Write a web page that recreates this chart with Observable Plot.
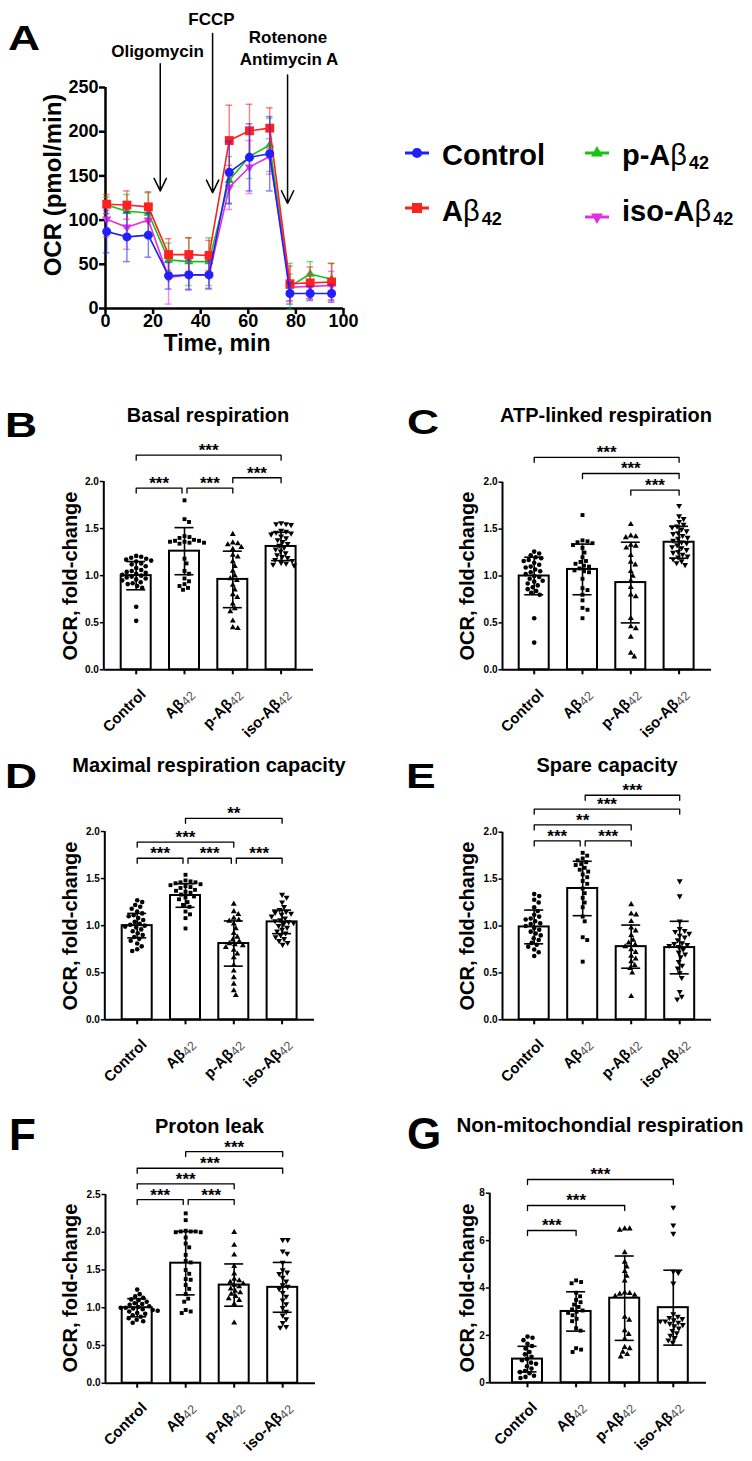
<!DOCTYPE html>
<html><head><meta charset="utf-8">
<script src="https://cdn.jsdelivr.net/npm/d3@7"></script>
<script src="https://cdn.jsdelivr.net/npm/@observablehq/plot@0.6"></script>
<style>
html,body{margin:0;padding:0;background:#fff;}
#fig{position:relative;width:752px;height:1461px;overflow:hidden;background:#fff;font-family:"Liberation Sans",Arial,sans-serif;}
</style></head>
<body><div id="fig"></div>
<script>
// ---------------- DATA ----------------
const groups = ["Control", "Aβ42", "p-Aβ42", "iso-Aβ42"];
const groupSymbols = ["circle", "square", "triangle", "triangle"];
const groupRotate = [0, 0, 0, 180];
const seriesColors = ["#1f1fff", "#ff2020", "#16c416", "#e030e0"];

// Panel A: Seahorse OCR time course (mean, SD)
const timeMin = [0.5, 9, 18, 26.5, 35, 43.5, 52, 60.5, 69, 77.5, 86, 95];
const ocrControl = [87, 81, 83, 37, 38, 38, 154, 171, 175, 17, 17, 17];
const ocrControlSD = [24, 28, 25, 15, 17, 16, 35, 38, 42, 12, 8, 10];
const ocrAbeta = [118, 117, 115, 61, 61, 60, 190, 201, 204, 28, 29, 30];
const ocrAbetaSD = [11, 16, 17, 18, 19, 17, 40, 30, 23, 20, 18, 21];
const ocrPAbeta = [117, 110, 108, 55, 53, 53, 145, 172, 185, 25, 39, 33];
const ocrPAbetaSD = [9, 19, 23, 19, 27, 27, 27, 25, 30, 26, 14, 18];
const ocrIsoAbeta = [101, 92, 100, 35, 38, 38, 137, 160, 172, 24, 25, 26];
const ocrIsoAbetaSD = [20, 25, 18, 30, 16, 15, 25, 30, 20, 15, 14, 16];
const timeTicks = [0, 20, 40, 60, 80, 100];
const ocrTicks = [0, 50, 100, 150, 200, 250];
const injections = ["Oligomycin", "FCCP", "Rotenone|Antimycin A"];
const injectionTime = [23, 45, 76.5];

// Panel B: Basal respiration
const basalMean = [1.00, 1.26, 0.96, 1.31];
const basalSD = [0.15, 0.25, 0.30, 0.15];
const basalControl = [1.21,1.20,1.19,1.18,1.17,1.16,1.15,1.13,1.12,1.10,1.08,1.06,1.05,1.04,1.03,1.02,1.01,1.00,0.99,0.98,0.97,0.96,0.95,0.93,0.92,0.91,0.89,0.87,0.67,0.52];
const basalAbeta = [1.80,1.60,1.57,1.42,1.41,1.40,1.38,1.37,1.37,1.36,1.36,1.35,1.35,1.34,1.18,1.13,1.05,1.02,0.97,0.94,0.91,0.89,0.87,0.85];
const basalPAbeta = [1.44,1.35,1.34,1.33,1.30,1.28,1.22,1.20,1.15,1.10,1.05,1.00,0.97,0.95,0.90,0.85,0.80,0.77,0.70,0.65,0.62,0.52,0.45,0.44];
const basalIsoAbeta = [1.56,1.55,1.55,1.54,1.48,1.47,1.46,1.45,1.44,1.42,1.40,1.38,1.36,1.34,1.32,1.30,1.28,1.26,1.24,1.22,1.20,1.19,1.17,1.16,1.14,1.13,1.12,1.11];
const basalSig = [
  {a: 0, b: 3, level: 2.28, label: "***"},
  {a: 0, b: 1, level: 1.93, label: "***", nb: -1},
  {a: 1, b: 2, level: 1.93, label: "***", na: 1},
  {a: 2, b: 3, level: 2.04, label: "***"}];

// Panel C: ATP-linked respiration
const atpMean = [1.00, 1.07, 0.93, 1.36];
const atpSD = [0.20, 0.27, 0.43, 0.17];
const atpControl = [1.26,1.24,1.22,1.20,1.19,1.17,1.16,1.14,1.12,1.10,1.09,1.07,1.05,1.04,1.02,1.00,0.99,0.97,0.95,0.94,0.92,0.90,0.88,0.86,0.84,0.82,0.80,0.55,0.29];
const atpAbeta = [1.65,1.38,1.37,1.36,1.35,1.33,1.30,1.25,1.20,1.16,1.15,1.13,1.11,1.10,1.08,1.06,1.05,1.04,0.97,0.87,0.85,0.80,0.74,0.66,0.64,0.55];
const atpPAbeta = [1.55,1.43,1.42,1.41,1.33,1.32,1.30,1.22,1.15,1.12,1.05,1.00,0.95,0.88,0.80,0.78,0.55,0.46,0.44,0.35,0.18,0.14];
const atpIsoAbeta = [1.75,1.64,1.61,1.58,1.55,1.53,1.52,1.50,1.48,1.46,1.45,1.43,1.41,1.40,1.38,1.36,1.35,1.33,1.31,1.30,1.28,1.26,1.25,1.23,1.21,1.20,1.18,1.16,1.14,1.12];
const atpSig = [
  {a: 0, b: 3, level: 2.265, label: "***"},
  {a: 1, b: 3, level: 2.093, label: "***"},
  {a: 2, b: 3, level: 1.915, label: "***"}];

// Panel D: Maximal respiration capacity
const maxMean = [1.00, 1.32, 0.81, 1.04];
const maxSD = [0.13, 0.125, 0.24, 0.125];
const maxControl = [1.27,1.25,1.22,1.20,1.18,1.15,1.13,1.11,1.10,1.08,1.06,1.04,1.02,1.01,1.00,0.99,0.98,0.96,0.94,0.92,0.90,0.88,0.86,0.84,0.81,0.78,0.75,0.73];
const maxAbeta = [1.54,1.48,1.47,1.46,1.46,1.45,1.44,1.43,1.42,1.41,1.40,1.38,1.37,1.36,1.35,1.33,1.31,1.30,1.28,1.25,1.22,1.20,1.15,1.12,1.08,0.97];
const maxPAbeta = [1.23,1.15,1.12,1.08,1.06,1.05,1.02,0.97,0.92,0.88,0.85,0.83,0.81,0.80,0.79,0.77,0.74,0.70,0.66,0.58,0.52,0.45,0.38,0.31,0.26];
const maxIsoAbeta = [1.33,1.30,1.25,1.20,1.17,1.15,1.14,1.13,1.12,1.10,1.08,1.06,1.05,1.04,1.03,1.02,1.00,0.98,0.96,0.94,0.92,0.90,0.88,0.86,0.84,0.82,0.80];
const maxSig = [
  {a: 1, b: 3, level: 2.14, label: "**"},
  {a: 0, b: 2, level: 1.887, label: "***"},
  {a: 0, b: 1, level: 1.716, label: "***", nb: -1},
  {a: 1, b: 2, level: 1.716, label: "***", na: 1, nb: -1},
  {a: 2, b: 3, level: 1.716, label: "***", na: 1}];

// Panel E: Spare capacity
const spareMean = [0.99, 1.40, 0.78, 0.77];
const spareSD = [0.18, 0.29, 0.23, 0.28];
const spareControl = [1.34,1.32,1.28,1.25,1.20,1.16,1.12,1.10,1.08,1.07,1.05,1.03,1.02,1.00,0.98,0.96,0.94,0.92,0.90,0.87,0.85,0.82,0.80,0.78,0.75,0.72,0.68];
const spareAbeta = [1.78,1.75,1.72,1.70,1.68,1.66,1.65,1.62,1.60,1.58,1.55,1.52,1.48,1.45,1.40,1.35,1.30,1.25,1.20,1.10,1.05,0.88,0.85,0.62];
const sparePAbeta = [1.23,1.13,1.12,1.05,0.98,0.95,0.90,0.85,0.82,0.80,0.78,0.75,0.72,0.68,0.65,0.62,0.58,0.55,0.50,0.25];
const spareIsoAbeta = [1.48,1.32,1.05,0.97,0.95,0.94,0.92,0.90,0.88,0.85,0.82,0.81,0.80,0.79,0.78,0.75,0.72,0.70,0.67,0.62,0.58,0.55,0.50,0.45,0.30,0.25,0.22];
const spareSig = [
  {a: 1, b: 3, level: 2.394, label: "***", na: 1},
  {a: 0, b: 3, level: 2.245, label: "***"},
  {a: 0, b: 2, level: 2.078, label: "**"},
  {a: 0, b: 1, level: 1.907, label: "***", nb: -1},
  {a: 1, b: 2, level: 1.907, label: "***", na: 1}];

// Panel F: Proton leak
const leakMean = [1.00, 1.59, 1.30, 1.27];
const leakSD = [0.12, 0.42, 0.28, 0.33];
const leakControl = [1.24,1.18,1.15,1.13,1.11,1.10,1.08,1.06,1.05,1.04,1.02,1.01,1.00,1.00,0.99,0.98,0.97,0.96,0.95,0.93,0.92,0.90,0.88,0.86,0.84,0.82,0.80];
const leakAbeta = [2.25,2.16,2.02,2.01,2.01,2.01,2.00,2.00,1.93,1.85,1.80,1.70,1.62,1.60,1.50,1.45,1.38,1.37,1.30,1.25,1.18,1.12,1.08,0.97,0.95,0.93];
const leakPAbeta = [2.00,1.83,1.70,1.55,1.45,1.38,1.36,1.34,1.32,1.30,1.28,1.25,1.22,1.20,1.18,1.15,1.12,1.10,1.05,0.80];
const leakIsoAbeta = [1.90,1.90,1.75,1.72,1.60,1.50,1.47,1.45,1.40,1.35,1.30,1.28,1.25,1.20,1.15,1.10,1.05,1.00,0.95,0.90,0.85,0.80,0.75,0.74];
const leakSig = [
  {a: 1, b: 3, level: 3.069, label: "***"},
  {a: 0, b: 3, level: 2.848, label: "***"},
  {a: 0, b: 2, level: 2.641, label: "***"},
  {a: 0, b: 1, level: 2.433, label: "***", nb: -1},
  {a: 1, b: 2, level: 2.433, label: "***", na: 1}];

// Panel G: Non-mitochondrial respiration
const nonMean = [1.00, 3.01, 3.57, 3.17];
const nonSD = [0.54, 0.83, 1.78, 1.58];
const nonControl = [1.95,1.90,1.80,1.65,1.55,1.45,1.30,1.20,1.10,1.00,0.95,0.85,0.80,0.70,0.60,0.50,0.45,0.40,0.30,0.25,0.20];
const nonAbeta = [4.32,4.25,4.20,3.80,3.65,3.50,3.40,3.30,3.20,3.10,3.05,3.00,2.95,2.85,2.70,2.60,2.30,2.20,1.46,1.40,1.30];
const nonPAbeta = [6.50,6.45,6.50,5.50,5.10,4.90,4.70,4.50,4.30,3.80,3.75,3.78,3.70,3.65,2.77,2.65,2.20,2.05,1.85,1.50,1.45,1.30,1.20,1.10];
const nonIsoAbeta = [7.40,6.65,6.30,4.70,4.65,4.20,2.90,2.80,2.75,2.70,2.65,2.60,2.60,2.55,2.50,2.45,2.40,2.30,2.20,2.10,2.00,1.90,1.80,1.70];
const nonSig = [
  {a: 0, b: 3, level: 8.578, label: "***"},
  {a: 0, b: 2, level: 7.481, label: "***"},
  {a: 0, b: 1, level: 6.426, label: "***"}];

const panelTitles = ["Basal respiration", "ATP-linked respiration", "Maximal respiration capacity",
  "Spare capacity", "Proton leak", "Non-mitochondial respiration"];
const panelLetters = ["A", "B", "C", "D", "E", "F", "G"];
const yLabelA = "OCR (pmol/min)";
const xLabelA = "Time, min";
const yLabelBar = "OCR, fold-change";

// ---------------- LAYOUT ----------------
const FONT = "'Liberation Sans', Arial, Helvetica, sans-serif";
const STYLE = `font-family:${FONT};font-weight:bold;background:transparent;overflow:visible;`;
const NS = "http://www.w3.org/2000/svg";
const fig = document.getElementById("fig");

function place(el, left, top) {
  el.style.position = "absolute";
  el.style.left = left + "px";
  el.style.top = top + "px";
  fig.appendChild(el);
}

function subscript42(root, weight, fill) {
  root.querySelectorAll("text").forEach(t => {
    if (t.querySelector("tspan")) return;
    const m = (t.textContent || "").match(/^(.*β)42$/);
    if (!m) return;
    t.textContent = "";
    const a = document.createElementNS(NS, "tspan");
    a.textContent = m[1];
    const b = document.createElementNS(NS, "tspan");
    b.textContent = "42";
    b.setAttribute("font-weight", weight);
    b.setAttribute("font-size", "0.85em");
    b.setAttribute("dy", "0.15em");
    b.setAttribute("fill", fill);
    t.append(a, b);
  });
}

// ---------- Panel A ----------
const seriesA = [
  {v: ocrControl, sd: ocrControlSD},
  {v: ocrAbeta, sd: ocrAbetaSD},
  {v: ocrPAbeta, sd: ocrPAbetaSD},
  {v: ocrIsoAbeta, sd: ocrIsoAbetaSD}];
const drawOrderA = [2, 3, 1, 0];
const markerRA = [4.5, 5, 3.4, 3.4];
const capA = 1.4;
const marksA = [];
for (const k of drawOrderA) {
  const rows = timeMin.map((t, i) => ({t, v: seriesA[k].v[i], sd: seriesA[k].sd[i]}));
  const c = seriesColors[k];
  const eb = {stroke: c, strokeOpacity: 0.55, strokeWidth: 1.5};
  marksA.push(
    Plot.ruleX(rows, {x: "t", y1: d => d.v - d.sd, y2: d => d.v + d.sd, ...eb}),
    Plot.ruleY(rows, {y: d => d.v + d.sd, x1: d => d.t - capA, x2: d => d.t + capA, ...eb}),
    Plot.ruleY(rows, {y: d => d.v - d.sd, x1: d => d.t - capA, x2: d => d.t + capA, ...eb}),
    Plot.line(rows, {x: "t", y: "v", stroke: c, strokeWidth: 1.6}),
    Plot.dot(rows, {x: "t", y: "v", fill: c, symbol: groupSymbols[k], rotate: groupRotate[k], r: markerRA[k]})
  );
}
const arrowFrom = [277, 311, 264], arrowTo = [133, 131, 119];
const injRows = injectionTime.map((t, i) => ({t, from: arrowFrom[i], to: arrowTo[i]}));

const plotA = Plot.plot({
  width: 380, height: 340, marginLeft: 105, marginRight: 37, marginTop: 87, marginBottom: 32,
  x: {domain: [0, 100], axis: null}, y: {domain: [0, 250], axis: null},
  style: STYLE,
  marks: [
    Plot.ruleX([0], {y1: 0, y2: 250, strokeWidth: 2.5}),
    Plot.ruleY([0], {x1: 0, x2: 100, strokeWidth: 2.5}),
    Plot.axisY({ticks: ocrTicks, tickSize: 6, tickPadding: 1, fontSize: 18, strokeWidth: 2.5, label: null}),
    Plot.axisX({ticks: timeTicks, tickSize: 6, tickPadding: 0, fontSize: 18, strokeWidth: 2.5, label: null}),
    ...marksA,
    Plot.arrow(injRows, {x1: "t", x2: "t", y1: "from", y2: "to", stroke: "black", strokeWidth: 1.5, headLength: 14, headAngle: 52})
  ]
});
place(plotA, 0, 0);

// ---------- Bar panels ----------
function swarm(vals, ppu, d) {
  const idx = vals.map((_, i) => i).sort((a, b) => vals[b] - vals[a]);
  const placed = [], off = new Array(vals.length);
  for (const i of idx) {
    const y = vals[i] * ppu;
    for (let k = 0; ; k++) {
      const c = (k % 2 ? 1 : -1) * Math.ceil(k / 2) * 0.5 + 0;
      if (k > 400 || placed.every(p => (p.x - c) ** 2 + (p.y - y) ** 2 >= d * d)) {
        off[i] = c; placed.push({x: c, y}); break;
      }
    }
  }
  return off;
}

function barPanel(cfg) {
  const g = cfg.geo;
  const step = g.step;
  const lo = (g.x0 - g.c0) / step, hi = (g.xEnd - g.c0) / step;
  const ppu = (g.y0 - g.yTop) / cfg.yMax;
  const half = 15 / step, cap = 9.5 / step, nud = 2.5 / step;
  const drop = 5 / ppu, tick = 5 / ppu;
  const summary = cfg.mean.map((m, i) => ({i, m, s: cfg.sd[i]}));
  const dotMarks = cfg.values.map((vals, gi) => {
    const offs = swarm(vals, ppu, 5.0);
    const rows = vals.map((v, j) => ({v, x: gi + offs[j] / step}));
    return Plot.dot(rows, {x: "x", y: "v", fill: "black", symbol: groupSymbols[gi], rotate: groupRotate[gi], r: gi === 0 ? 2.3 : 2.2});
  });
  const br = [];
  cfg.sig.forEach((b, k) => {
    const xa = b.a + (b.na || 0) * nud, xb = b.b + (b.nb || 0) * nud;
    br.push({k, x: xa, y: b.level - drop}, {k, x: xa, y: b.level}, {k, x: xb, y: b.level}, {k, x: xb, y: b.level - drop});
  });
  const el = Plot.plot({
    width: g.right - g.left, height: g.bottom - g.top,
    marginLeft: g.x0 - g.left, marginRight: g.right - g.xEnd,
    marginTop: g.yTop - g.top, marginBottom: g.bottom - g.y0,
    x: {domain: [lo, hi], axis: null}, y: {domain: [0, cfg.yMax], axis: null},
    style: STYLE,
    marks: [
      Plot.rectY(summary, {x1: d => d.i - half, x2: d => d.i + half, y1: 0, y2: "m", fill: "white", stroke: "black", strokeWidth: 2}),
      Plot.ruleX(summary, {x: "i", y1: d => d.m - d.s, y2: d => d.m + d.s, strokeWidth: 1.6}),
      Plot.ruleY(summary, {y: d => d.m + d.s, x1: d => d.i - cap, x2: d => d.i + cap, strokeWidth: 1.6}),
      Plot.ruleY(summary, {y: d => d.m - d.s, x1: d => d.i - cap, x2: d => d.i + cap, strokeWidth: 1.6}),
      ...dotMarks,
      Plot.ruleX([lo], {y1: 0, y2: cfg.yMax, strokeWidth: 2}),
      Plot.ruleY([0], {x1: lo, x2: hi, strokeWidth: 2}),
      Plot.ruleX(groups.map((_, i) => i), {y1: 0, y2: -tick, strokeWidth: 2}),
      Plot.axisY({ticks: cfg.yTicks, tickFormat: cfg.fmt, tickSize: 3.5, tickPadding: 1.5, fontSize: 10, strokeWidth: 1.5, label: null}),
      Plot.line(br, {x: "x", y: "y", z: "k", stroke: "black", strokeWidth: 1.3}),
      Plot.text(cfg.sig, {x: d => (d.a + (d.na || 0) * nud + d.b + (d.nb || 0) * nud) / 2, y: "level", text: "label",
        fontSize: 17, lineAnchor: "middle", dy: -4.5}),
      Plot.text(groups, {x: (d, i) => i, y: 0, text: d => d, rotate: -45, textAnchor: "end", lineAnchor: "middle",
        dx: 7, dy: 22, fontSize: 15})
    ]
  });
  subscript42(el, "normal", "#555");
  place(el, g.left, g.top);
}

const f1 = d3.format(".1f"), f0 = d3.format("d");
const ticks2 = [0, 0.5, 1, 1.5, 2], ticks25 = [0, 0.5, 1, 1.5, 2, 2.5], ticks8 = [0, 2, 4, 6, 8];
barPanel({values: [basalControl, basalAbeta, basalPAbeta, basalIsoAbeta], mean: basalMean, sd: basalSD, sig: basalSig,
  yMax: 2, yTicks: ticks2, fmt: f1,
  geo: {left: 0, top: 430, right: 376, bottom: 760, x0: 103.3, c0: 135.7, step: 48.3, xEnd: 313, y0: 669.3, yTop: 481}});
barPanel({values: [atpControl, atpAbeta, atpPAbeta, atpIsoAbeta], mean: atpMean, sd: atpSD, sig: atpSig,
  yMax: 2, yTicks: ticks2, fmt: f1,
  geo: {left: 376, top: 430, right: 752, bottom: 760, x0: 502, c0: 533.7, step: 48.3, xEnd: 711, y0: 669.3, yTop: 481.7}});
barPanel({values: [maxControl, maxAbeta, maxPAbeta, maxIsoAbeta], mean: maxMean, sd: maxSD, sig: maxSig,
  yMax: 2, yTicks: ticks2, fmt: f1,
  geo: {left: 0, top: 780, right: 376, bottom: 1110, x0: 104.3, c0: 136.7, step: 48.3, xEnd: 314, y0: 1019.3, yTop: 831}});
barPanel({values: [spareControl, spareAbeta, sparePAbeta, spareIsoAbeta], mean: spareMean, sd: spareSD, sig: spareSig,
  yMax: 2, yTicks: ticks2, fmt: f1,
  geo: {left: 376, top: 770, right: 752, bottom: 1110, x0: 502, c0: 533.7, step: 48.5, xEnd: 711, y0: 1019.3, yTop: 831.7}});
barPanel({values: [leakControl, leakAbeta, leakPAbeta, leakIsoAbeta], mean: leakMean, sd: leakSD, sig: leakSig,
  yMax: 2.5, yTicks: ticks25, fmt: f1,
  geo: {left: 0, top: 1128, right: 376, bottom: 1461, x0: 105, c0: 136.7, step: 48.5, xEnd: 315, y0: 1382.7, yTop: 1194}});
barPanel({values: [nonControl, nonAbeta, nonPAbeta, nonIsoAbeta], mean: nonMean, sd: nonSD, sig: nonSig,
  yMax: 8, yTicks: ticks8, fmt: f0,
  geo: {left: 376, top: 1150, right: 752, bottom: 1461, x0: 489.3, c0: 527, step: 48.6, xEnd: 706, y0: 1382.3, yTop: 1192.7}});

// ---------- Overlay text (letters, titles, axis titles, legend) ----------
const ov = document.createElementNS(NS, "svg");
ov.setAttribute("width", 752); ov.setAttribute("height", 1461);
ov.setAttribute("style", `font-family:${FONT};font-weight:bold;pointer-events:none;`);
function addText(str, attrs, parent = ov) {
  const t = document.createElementNS(NS, "text");
  for (const k in attrs) t.setAttribute(k, attrs[k]);
  t.textContent = str;
  parent.appendChild(t);
  return t;
}
// panel letters
const letterPos = [[8, 50, 35, 1.27], [5, 437, 35, 1.27], [407, 434, 35, 1.27], [5, 788, 35, 1.27], [406, 788, 35, 1.27], [9, 1150, 44, 1], [407, 1149, 44, 1]];
panelLetters.forEach((L, i) => {
  const [x, y, fs, sx] = letterPos[i];
  addText(L, {x: 0, y: 0, "font-size": fs, transform: `translate(${x},${y}) scale(${sx},1)`});
});
// titles
const titlePos = [[208, 422, 20], [606, 422, 20], [209, 772, 20], [607, 772, 20], [209.5, 1133, 20], [600, 1132, 20.6]];
panelTitles.forEach((s, i) => {
  const [x, y, fs] = titlePos[i];
  addText(s, {x, y, "font-size": fs, "text-anchor": "middle"});
});
// y labels of bar panels
const yLabPos = [[70, 576], [467, 576], [70, 926], [467, 926], [70, 1288], [467, 1288]];
yLabPos.forEach(([x, y]) => addText(yLabelBar, {x, y, "font-size": 20, "text-anchor": "middle", "dominant-baseline": "central", transform: `rotate(-90 ${x} ${y})`}));
// panel A axis titles
addText(yLabelA, {x: 52, y: 185, "font-size": 24, "text-anchor": "middle", "dominant-baseline": "central", transform: "rotate(-90 52 185)"});
addText(xLabelA, {x: 217, y: 351, "font-size": 23, "text-anchor": "middle"});
// injection labels
const injLabelPos = [[[157.5, 57]], [[211.5, 25]], [[288, 43], [289, 65]]];
injections.forEach((s, i) => s.split("|").forEach((line, j) => {
  const [x, y] = injLabelPos[i][j];
  addText(line, {x, y, "font-size": 17, "text-anchor": "middle"});
}));
// legend
const legendPos = [[417, 153, 442, 165], [417, 208, 442, 221], [597, 153, 622, 165], [597, 217, 622, 221]];
const legendArea = [80, 100, 62, 62];
groups.forEach((name, i) => {
  const [mx, my, tx, ty] = legendPos[i];
  const ln = document.createElementNS(NS, "line");
  ln.setAttribute("x1", mx - 12); ln.setAttribute("x2", mx + 12);
  ln.setAttribute("y1", my); ln.setAttribute("y2", my);
  ln.setAttribute("stroke", seriesColors[i]); ln.setAttribute("stroke-width", 3);
  ov.appendChild(ln);
  const sym = {circle: d3.symbolCircle, square: d3.symbolSquare, triangle: d3.symbolTriangle}[groupSymbols[i]];
  const p = document.createElementNS(NS, "path");
  p.setAttribute("d", d3.symbol(sym, legendArea[i])());
  p.setAttribute("fill", seriesColors[i]);
  p.setAttribute("transform", `translate(${mx},${my}) rotate(${groupRotate[i]})`);
  ov.appendChild(p);
  const t = addText("", {x: tx, y: ty, "font-size": 29});
  const m = name.match(/^(.*)β42$/);
  if (!m) { t.textContent = name; return; }
  const a = document.createElementNS(NS, "tspan"); a.textContent = m[1];
  const b = document.createElementNS(NS, "tspan"); b.textContent = "β"; b.setAttribute("font-weight", "normal");
  const c = document.createElementNS(NS, "tspan"); c.textContent = "42"; c.setAttribute("font-size", 18); c.setAttribute("dy", 4); c.setAttribute("dx", 2);
  t.append(a, b, c);
});
place(ov, 0, 0);
</script>
</body></html>
